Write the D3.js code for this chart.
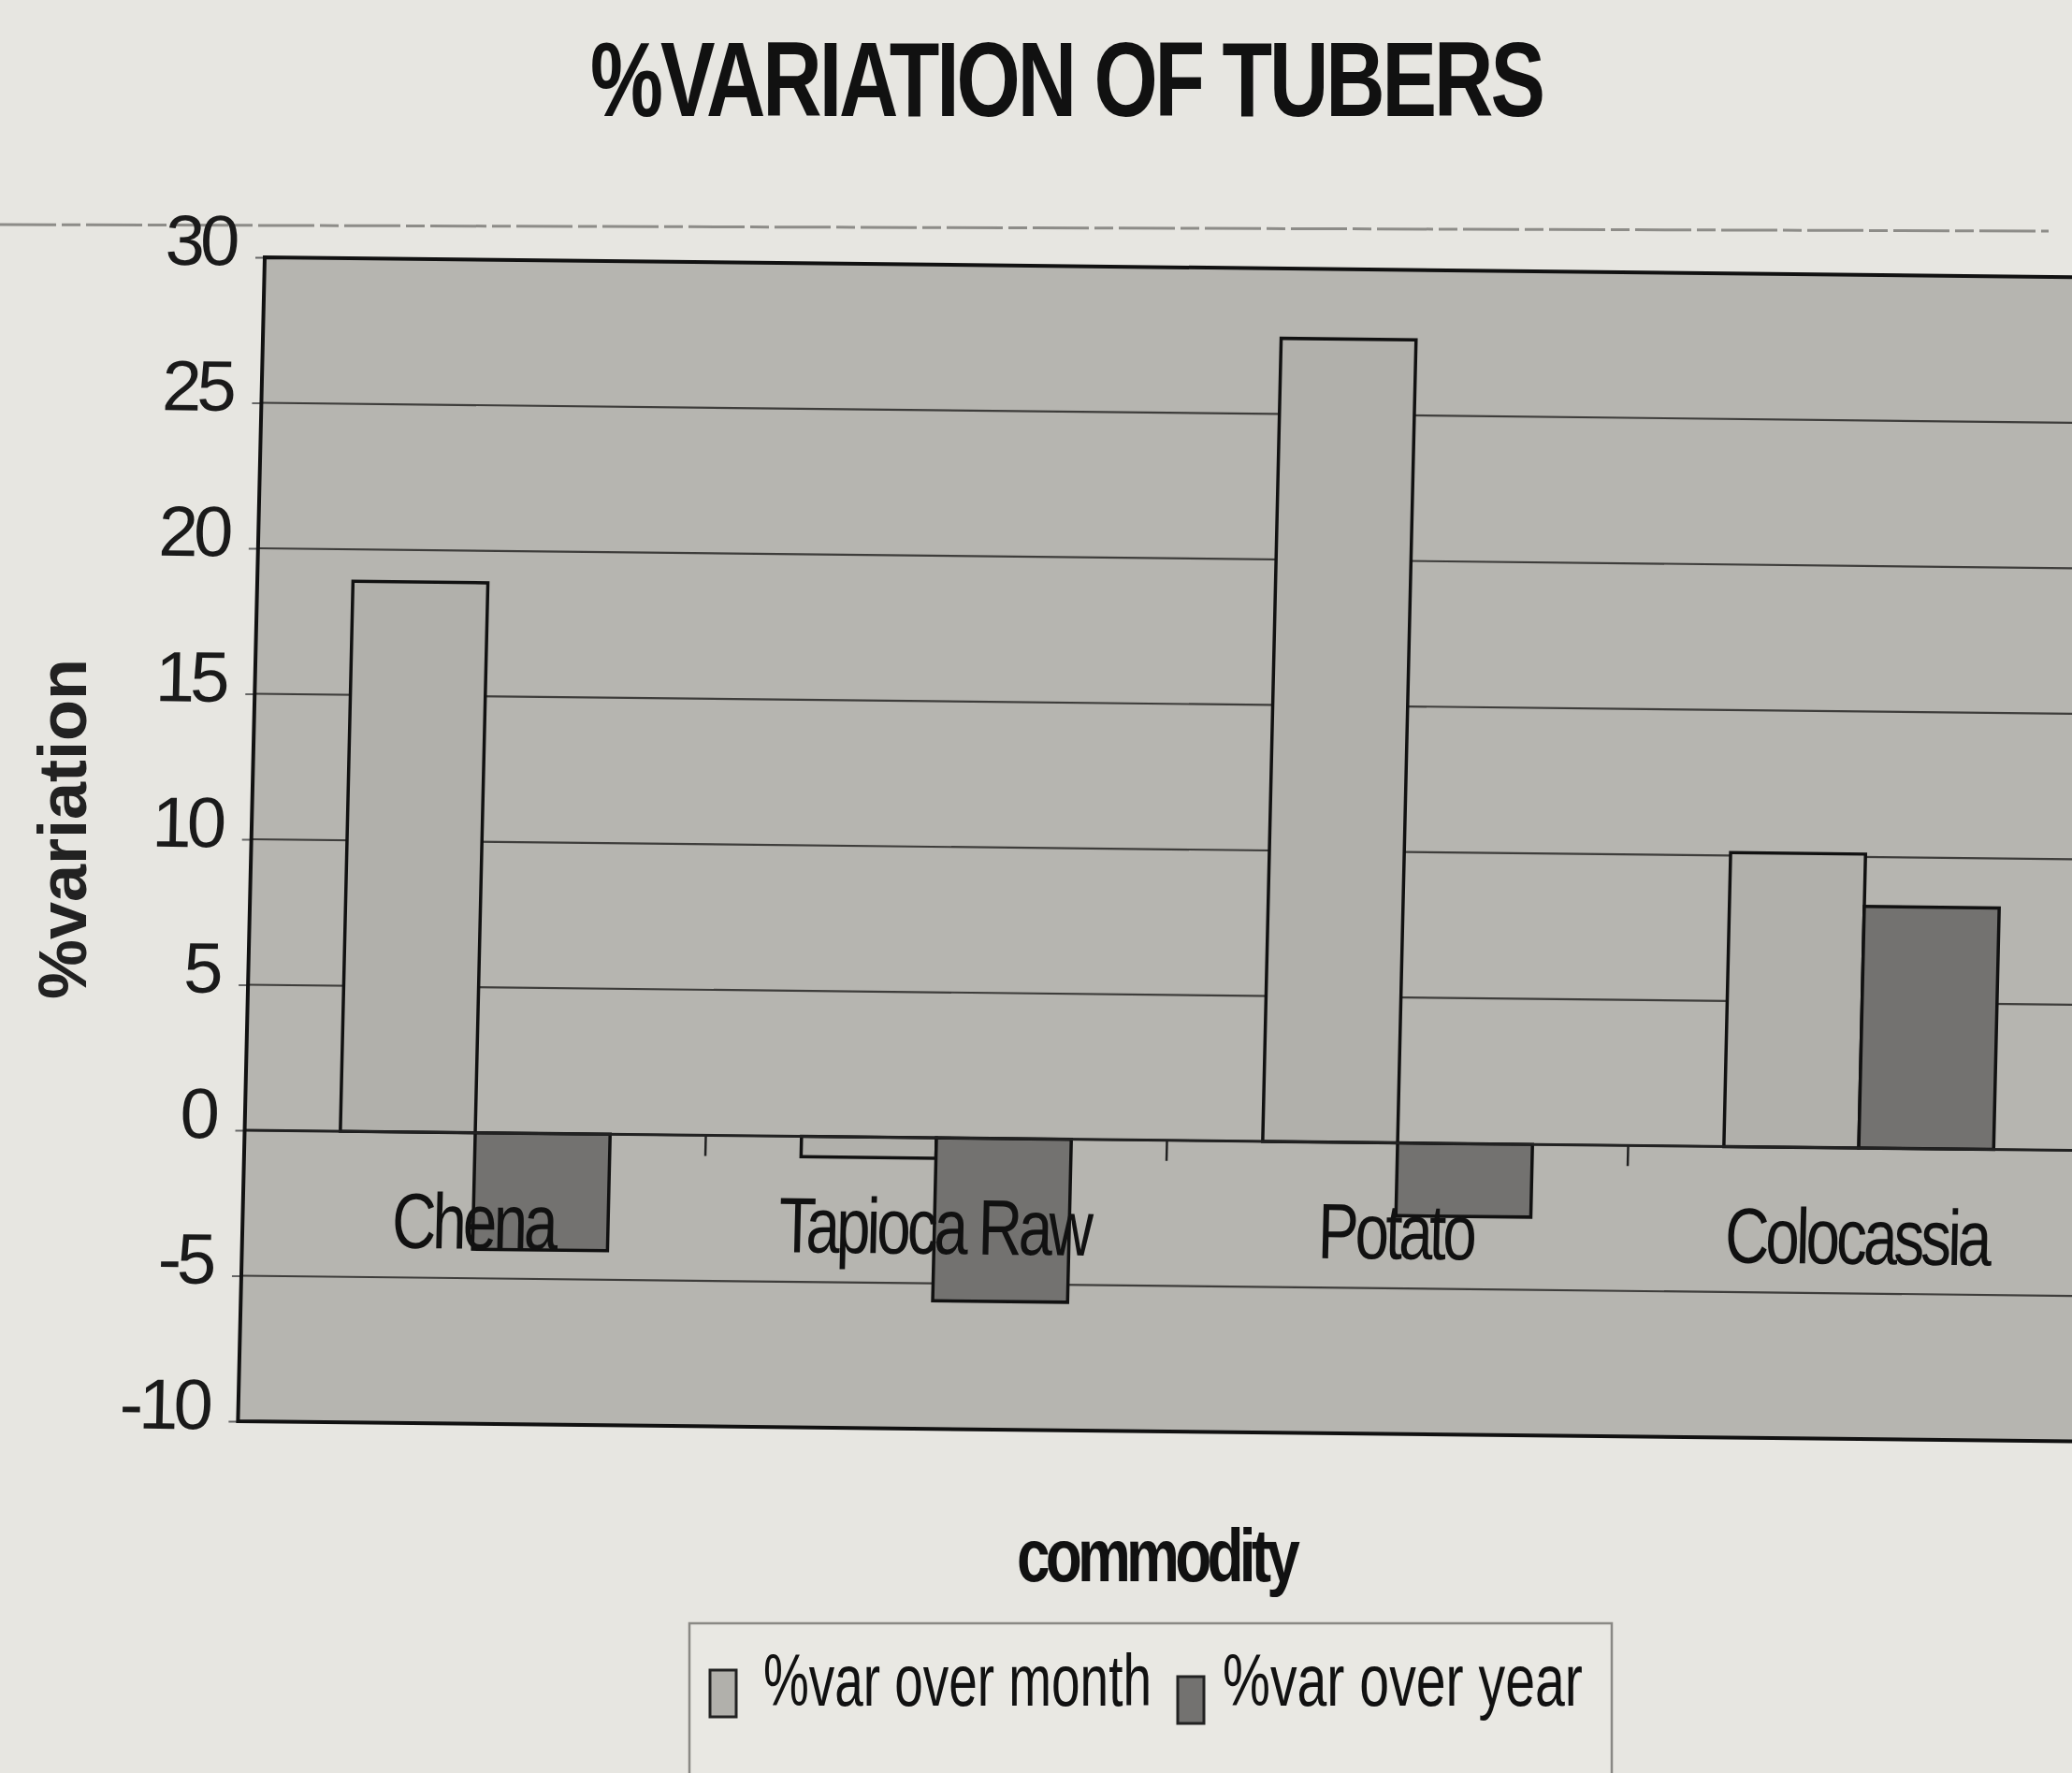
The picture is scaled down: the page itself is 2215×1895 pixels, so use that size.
<!DOCTYPE html>
<html>
<head>
<meta charset="utf-8">
<script src="https://cdn.jsdelivr.net/npm/d3@7"></script>
<style>
  html, body { margin: 0; padding: 0; background: #e7e6e1; }
  svg { display: block; }
  text { font-family: "Liberation Sans", Arial, sans-serif; fill: #111; }
</style>
</head>
<body>
<svg id="chart" width="2215" height="1895"></svg>
<script>
// values
const categories = ["Chena", "Tapioca Raw", "Potato", "Colocassia"];
const seriesNames = ["%var over month", "%var over year"];
const overMonth = [18.9, -0.7, 27.6, 10.1];
const overYear = [-4.0, -5.6, -2.5, 8.3];
const yTicks = [-10, -5, 0, 5, 10, 15, 20, 25, 30];

const svg = d3.select("#chart");
const margin = {left: 283, top: 275};
const width = 1972, height = 1244;
const colors = {"%var over month": "#b1b0ab", "%var over year": "#737270"};

// squash text horizontally, the scan uses a very condensed face
function squeeze(sel, f) {
  sel.each(function() {
    const w = this.getComputedTextLength();
    d3.select(this).attr("textLength", w * f).attr("lengthAdjust", "spacingAndGlyphs");
  });
}

const data = categories.map((c, i) => ({
  cat: c,
  vals: [{key: seriesNames[0], v: overMonth[i]}, {key: seriesNames[1], v: overYear[i]}]
}));

// faint fold line across the top of the page
svg.append("line")
    .attr("x1", 0).attr("x2", 2190)
    .attr("y1", 240).attr("y2", 247)
    .style("stroke", "#8d8c88")
    .style("stroke-width", 3)
    .style("stroke-dasharray", "60 6 20 6");

// title
svg.append("text")
    .attr("x", 1140).attr("y", 124)
    .attr("text-anchor", "middle")
    .style("font-size", "114px")
    .style("font-weight", "bold")
    .style("letter-spacing", "-4px")
    .text("%VARIATION OF TUBERS")
    .call(squeeze, 0.77);

// the photographed page is a little skewed
const g = svg.append("g")
    .attr("transform", `translate(${margin.left},${margin.top}) matrix(1,0.011,-0.023,1,0,0)`);

const y = d3.scaleLinear().domain([-10, 30]).range([height, 0]);
const x0 = d3.scaleBand().domain(categories).range([0, width]).paddingInner(0.415).paddingOuter(0.2075);
const x1 = d3.scaleBand().domain(seriesNames).range([0, x0.bandwidth()]);

g.append("rect")
    .attr("width", width + 60).attr("height", height)
    .style("fill", "#b6b5b0");

// gridlines
g.append("g").selectAll("line")
  .data(yTicks.filter(d => d > -10 && d < 30))
  .enter().append("line")
    .attr("x1", 0).attr("x2", width + 60)
    .attr("y1", d => y(d)).attr("y2", d => y(d))
    .style("stroke", "#3e3d3b")
    .style("stroke-width", 2.2);

// y axis
const yAxis = g.append("g")
    .call(d3.axisLeft(y).tickValues(yTicks).tickFormat(d => String(d)).tickSize(10).tickPadding(22));
yAxis.select(".domain").remove();
yAxis.selectAll(".tick line").style("stroke", "#666").style("stroke-width", 2);
yAxis.selectAll(".tick text")
    .attr("y", -16)
    .style("font-size", "76px")
    .style("font-family", "'Liberation Sans', Arial, sans-serif")
    .style("fill", "#1a1a1a")
    .style("letter-spacing", "-5px");

// bars
const cat = g.append("g").selectAll("g")
  .data(data)
  .enter().append("g")
    .attr("transform", d => "translate(" + x0(d.cat) + ",0)");

cat.selectAll("rect")
  .data(d => d.vals)
  .enter().append("rect")
    .attr("x", d => x1(d.key))
    .attr("width", x1.bandwidth())
    .attr("y", d => y(Math.max(0, d.v)))
    .attr("height", d => Math.abs(y(d.v) - y(0)))
    .style("fill", d => colors[d.key])
    .style("stroke", "#111")
    .style("stroke-width", 3.5);

// category axis on zero, ticks between groups
g.append("line")
    .attr("x1", 0).attr("x2", width + 60)
    .attr("y1", y(0)).attr("y2", y(0))
    .style("stroke", "#222").style("stroke-width", 3);

g.append("g").selectAll("line")
  .data(categories.slice(1))
  .enter().append("line")
    .attr("x1", d => x0(d) - x0.step() * 0.2075)
    .attr("x2", d => x0(d) - x0.step() * 0.2075)
    .attr("y1", y(0)).attr("y2", y(0) + 22)
    .style("stroke", "#222").style("stroke-width", 2.5);

g.append("g").selectAll("text")
  .data(categories)
  .enter().append("text")
    .attr("x", d => x0(d) + x0.bandwidth() / 2)
    .attr("y", y(0) + 124)
    .attr("text-anchor", "middle")
    .style("font-size", "84px")
    .style("letter-spacing", "-5px")
    .text(d => d)
    .call(squeeze, 0.78);

// plot frame (left, top, bottom)
g.append("path")
    .attr("d", `M${width + 60},0H0V${height}H${width + 60}`)
    .style("fill", "none")
    .style("stroke", "#111")
    .style("stroke-width", 4);

// axis titles
svg.append("text")
    .attr("transform", "translate(92,886) rotate(-90)")
    .attr("text-anchor", "middle")
    .style("font-size", "72px")
    .style("font-weight", "bold")
    .style("fill", "#222")
    .text("%variation");

svg.append("text")
    .attr("x", 1236).attr("y", 1690)
    .attr("text-anchor", "middle")
    .style("font-size", "80px")
    .style("font-weight", "bold")
    .style("letter-spacing", "-6px")
    .text("commodity")
    .call(squeeze, 0.8);

// legend
const legend = svg.append("g");
legend.append("rect")
    .attr("x", 737).attr("y", 1735)
    .attr("width", 986).attr("height", 200)
    .style("fill", "#e9e8e3")
    .style("stroke", "#8a8985")
    .style("stroke-width", 2.5);

const legendItems = [
  {x: 759, tx: 816, tw: 415},
  {x: 1259, tx: 1307, tw: 385}
];
seriesNames.forEach((s, i) => {
  const it = legendItems[i];
  legend.append("rect")
      .attr("x", it.x).attr("y", 1785 + i * 7)
      .attr("width", 28).attr("height", 50)
      .style("fill", colors[s])
      .style("stroke", "#222")
      .style("stroke-width", 3);
  const t = legend.append("text")
      .attr("transform", `translate(${it.tx},1823)`)
      .style("font-size", "78px")
      .text(s);
  // condense by scaling so the box on screen matches the squeezed text
  const w = t.node().getComputedTextLength();
  t.attr("transform", `translate(${it.tx},1823) scale(${it.tw / w},1)`);
});
</script>
</body>
</html>
